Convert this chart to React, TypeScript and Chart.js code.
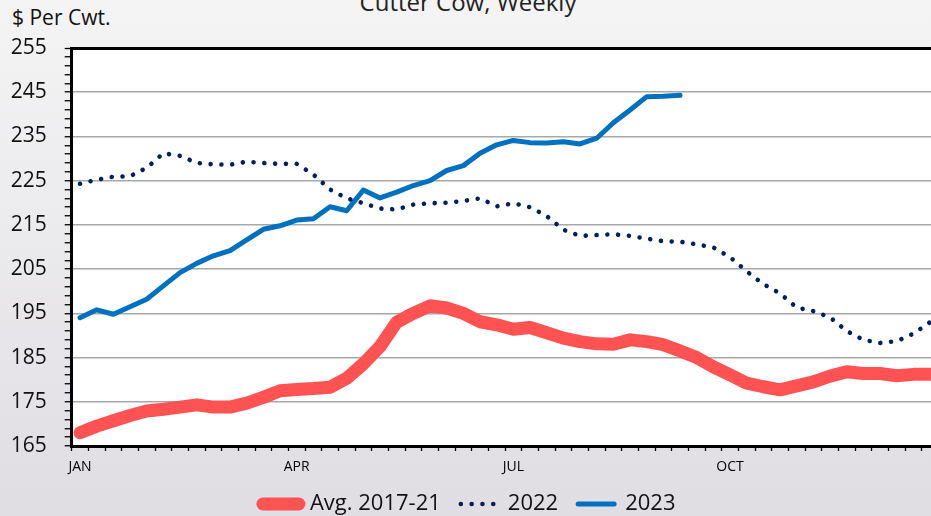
import React, { useEffect, useRef } from 'react';
import { Chart, registerables } from 'chart.js';

Chart.register(...registerables);

// ---------- data ----------
const weeks = [
  '1', '2', '3', '4', '5', '6', '7', '8', '9', '10', '11', '12', '13',
  '14', '15', '16', '17', '18', '19', '20', '21', '22', '23', '24', '25', '26',
  '27', '28', '29', '30', '31', '32', '33', '34', '35', '36', '37', '38', '39',
  '40', '41', '42', '43', '44', '45', '46', '47', '48', '49', '50', '51', '52',
];

const avg2017to21 = [
  168.0, 169.5, 170.7, 171.9, 172.9, 173.3, 173.8, 174.3, 173.8, 173.8, 174.7, 176.0, 177.5,
  177.8, 178.0, 178.3, 180.3, 183.6, 187.5, 193.0, 195.0, 196.7, 196.2, 195.0, 193.1, 192.4,
  191.4, 191.8, 190.6, 189.4, 188.6, 188.1, 188.0, 189.0, 188.6, 187.9, 186.5, 185.0, 182.9,
  181.1, 179.2, 178.4, 177.7, 178.6, 179.5, 180.8, 181.8, 181.4, 181.4, 180.9, 181.2, 181.2,
];

const values2022 = [
  224.3, 225.2, 225.9, 226.0, 227.9, 231.2, 230.6, 229.0, 228.7, 228.6, 229.3, 229.0, 228.8,
  228.8, 226.4, 223.0, 221.0, 219.9, 218.7, 218.5, 219.6, 219.9, 220.0, 220.4, 221.0, 219.2,
  219.9, 219.0, 217.0, 213.9, 212.5, 212.7, 212.9, 212.5, 211.9, 211.3, 211.2, 210.6, 209.9,
  207.7, 204.5, 201.6, 199.5, 196.3, 195.5, 194.1, 191.0, 189.0, 188.3, 188.7, 190.4, 193.0,
];

const values2023 = [
  194.0, 195.8, 194.8, 196.5, 198.2, 201.2, 204.2, 206.3, 208.0, 209.2, 211.6, 214.0, 214.8,
  216.1, 216.4, 219.1, 218.2, 222.9, 221.1, 222.4, 223.9, 225.0, 227.3, 228.4, 231.2, 233.1,
  234.1, 233.6, 233.5, 233.8, 233.3, 234.6, 238.1, 241.0, 244.0, 244.1, 244.3,
];

const monthLabels = ['JAN', 'APR', 'JUL', 'OCT'];
const monthWeeks = [1, 14, 27, 40];

const yMajorTicks = [165, 175, 185, 195, 205, 215, 225, 235, 245, 255];
const yMin = 165;
const yMax = 255;
const yMinorStep = 2;

const RED = '#FF5353';
const NAVY = '#002060';
const BLUE = '#0070C0';
const FONT = "'Open Sans', 'Noto Sans', sans-serif";

export default function App() {
  const canvasRef = useRef<HTMLCanvasElement>(null);

  useEffect(() => {
    const plotBg = {
      id: 'plotBg',
      beforeDraw(chart: any) {
        const { ctx, chartArea } = chart;
        const { left, top, right, bottom } = chartArea;
        ctx.save();
        ctx.fillStyle = '#ffffff';
        ctx.fillRect(left, top, right - left, bottom - top);
        ctx.restore();
      },
    };

    // move the legend row up a little so it sits close under the axis labels
    const legendShift = {
      id: 'legendShift',
      afterLayout(chart: any) {
        const lg = chart.legend;
        if (lg) {
          lg.top -= 7;
          lg.bottom -= 7;
        }
      },
    };

    const chart = new Chart(canvasRef.current as HTMLCanvasElement, {
      type: 'line',
      data: {
        labels: weeks,
        datasets: [
          {
            label: 'Avg. 2017-21',
            data: avg2017to21,
            borderColor: RED,
            backgroundColor: RED,
            borderWidth: 13,
            borderCapStyle: 'round',
            borderJoinStyle: 'round',
            pointRadius: 0,
            tension: 0,
          },
          {
            label: '2022',
            data: values2022,
            borderColor: NAVY,
            backgroundColor: NAVY,
            borderWidth: 4.6,
            borderDash: [0.01, 10.8],
            borderCapStyle: 'round',
            borderJoinStyle: 'round',
            pointRadius: 0,
            tension: 0,
          },
          {
            label: '2023',
            data: values2023,
            borderColor: BLUE,
            backgroundColor: BLUE,
            borderWidth: 5,
            borderCapStyle: 'round',
            borderJoinStyle: 'round',
            pointRadius: 0,
            tension: 0,
          },
        ],
      },
      options: {
        animation: false,
        responsive: true,
        maintainAspectRatio: false,
        layout: { padding: { top: 48, left: 0, right: 7.6, bottom: 0 } },
        plugins: {
          tooltip: { enabled: false },
          legend: {
            position: 'bottom',
            labels: {
              usePointStyle: true,
              pointStyleWidth: 36,
              padding: 20,
              color: '#111111',
              font: { family: FONT, size: 22 },
              generateLabels(c: any) {
                return c.data.datasets.map((ds: any, i: number) => ({
                  text: ds.label,
                  strokeStyle: ds.borderColor,
                  fillStyle: ds.borderColor,
                  lineWidth: ds.borderWidth,
                  lineDash: ds.borderDash || [],
                  lineCap: 'round',
                  pointStyle: 'line',
                  datasetIndex: i,
                  hidden: false,
                  fontColor: '#111111',
                }));
              },
            },
          },
        },
        scales: {
          x: {
            type: 'category',
            offset: true,
            grid: {
              offset: true,
              drawOnChartArea: false,
              drawTicks: true,
              tickLength: 5,
              tickColor: '#000000',
              tickWidth: 1.3,
            },
            border: { color: '#000000', width: 3 },
            ticks: {
              autoSkip: false,
              maxRotation: 0,
              minRotation: 0,
              padding: 8,
              color: '#000000',
              font: { family: FONT, size: 14 },
              callback: (_v: any, i: number) => {
                const k = monthWeeks.indexOf(i + 1);
                return k >= 0 ? monthLabels[k] : '';
              },
            },
            afterFit(s: any) {
              s.height = 34;
            },
          },
          y: {
            min: yMin,
            max: yMax,
            afterBuildTicks(s: any) {
              const t: any[] = [];
              for (let v = yMin; v <= yMax; v += yMinorStep) t.push({ value: v });
              s.ticks = t;
            },
            grid: {
              color: (c: any) => {
                const v = c.tick ? c.tick.value : null;
                if (v === yMax) return '#000000';
                if (yMajorTicks.includes(v)) return '#a8a8a8';
                return 'rgba(0,0,0,0)';
              },
              lineWidth: (c: any) => {
                const v = c.tick ? c.tick.value : null;
                if (v === yMax) return 3;
                return 1.5;
              },
              tickColor: '#000000',
              tickLength: 7,
              tickWidth: 1.3,
            },
            border: { color: '#000000', width: 3 },
            ticks: {
              autoSkip: false,
              padding: 18,
              color: '#111111',
              font: { family: FONT, size: 21 },
              callback: (v: any) => (yMajorTicks.includes(Number(v)) ? String(v) : ''),
            },
            afterFit(s: any) {
              s.width = 71.7;
            },
          },
        },
      } as any,
      plugins: [plotBg, legendShift],
    });

    return () => chart.destroy();
  }, []);

  return (
    <div
      style={{
        position: 'fixed',
        left: 0,
        top: 0,
        width: 931,
        height: 516,
        overflow: 'hidden',
        background: 'linear-gradient(to bottom, #f4f4f5 0%, #ebeaec 45%, #e0dde3 100%)',
        fontFamily: FONT,
      }}
    >
      <div
        style={{
          position: 'absolute',
          left: 268,
          width: 400,
          top: -10,
          textAlign: 'center',
          fontSize: 24,
          lineHeight: '24px',
          color: '#222222',
          whiteSpace: 'nowrap',
        }}
      >
        Cutter Cow, Weekly
      </div>
      <div
        style={{
          position: 'absolute',
          left: 12,
          top: 7,
          fontSize: 21,
          lineHeight: '21px',
          color: '#111111',
          whiteSpace: 'nowrap',
        }}
      >
        $ Per Cwt.
      </div>
      <div style={{ position: 'absolute', left: 0, top: 0, width: 946, height: 532 }}>
        <canvas ref={canvasRef} />
      </div>
    </div>
  );
}
